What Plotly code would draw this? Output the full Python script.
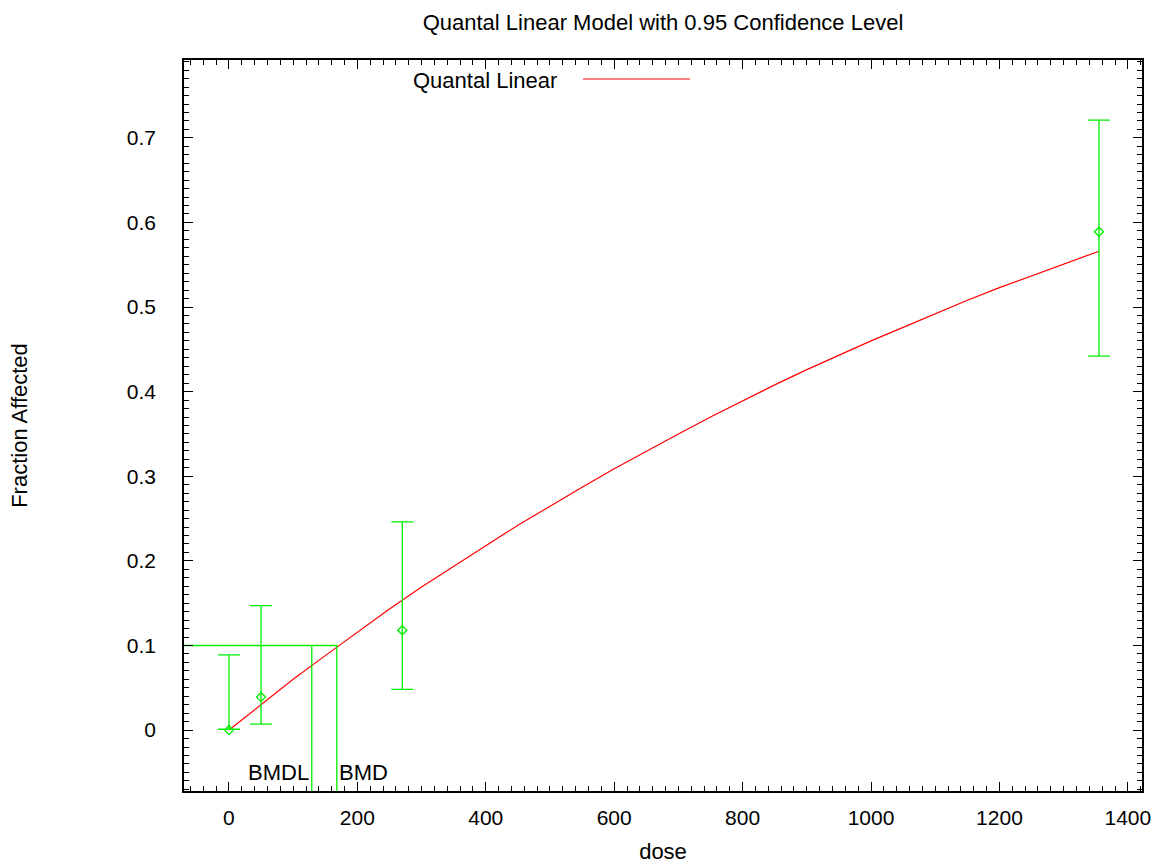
import plotly.graph_objects as go

dose = [0, 50, 270, 1355]
frac = [0.0, 0.039, 0.118, 0.589]
upper = [0.089, 0.147, 0.246, 0.721]
lower = [0.001, 0.007, 0.048, 0.442]

# Model curve
curve_dose = [0, 50, 100, 150, 200, 250, 300, 350, 400, 450, 500, 550, 600, 650, 700,
              750, 800, 850, 900, 950, 1000, 1050, 1100, 1150, 1200, 1250, 1300, 1355]
curve_frac = [0.0, 0.030, 0.060, 0.088, 0.116, 0.143, 0.169, 0.194, 0.218, 0.242, 0.265,
              0.287, 0.309, 0.330, 0.350, 0.370, 0.389, 0.408, 0.426, 0.443, 0.460, 0.476,
              0.492, 0.508, 0.523, 0.537, 0.551, 0.566]

bmr = 0.1
bmd = 168
bmdl = 129

x_range = [-70, 1422]
y_range = [-0.072, 0.792]

green = "rgb(0,238,0)"
red = "rgb(255,0,0)"
font = "Liberation Sans, Arial, sans-serif"

fig = go.Figure()

fig.add_trace(go.Scatter(
    x=curve_dose, y=curve_frac, mode="lines",
    line=dict(color=red, width=1.2), name="Quantal Linear", showlegend=False,
))

fig.add_trace(go.Scatter(
    x=dose, y=frac, mode="markers",
    marker=dict(symbol="diamond-open", size=7, color=green, line=dict(width=1.3, color=green)),
    error_y=dict(type="data", symmetric=False,
                 array=[u - f for u, f in zip(upper, frac)],
                 arrayminus=[f - l for f, l in zip(frac, lower)],
                 color=green, thickness=1.3, width=11),
    showlegend=False,
))

# BMD lines
fig.add_trace(go.Scatter(
    x=[x_range[0], bmd, bmd], y=[bmr, bmr, y_range[0]], mode="lines",
    line=dict(color=green, width=1.3), showlegend=False, hoverinfo="skip",
))
fig.add_trace(go.Scatter(
    x=[bmdl, bmdl], y=[bmr, y_range[0]], mode="lines",
    line=dict(color=green, width=1.3), showlegend=False, hoverinfo="skip",
))

fig.add_annotation(x=bmdl, y=-0.05, text="BMDL", showarrow=False, xanchor="right",
                   xshift=-1, font=dict(family=font, size=22, color="black"))
fig.add_annotation(x=bmd, y=-0.05, text="BMD", showarrow=False, xanchor="left",
                   xshift=0, font=dict(family=font, size=22, color="black"))

# Legend (text then line, as in reference)
fig.add_annotation(xref="paper", yref="paper", x=(559 - 184) / 958, y=(791 - 80) / 731,
                   text="Quantal Linear", showarrow=False, xanchor="right", yanchor="middle",
                   font=dict(family=font, size=22, color="black"))
fig.add_shape(type="line", xref="paper", yref="paper",
              x0=(583 - 184) / 958, x1=(690 - 184) / 958,
              y0=(791 - 79) / 731, y1=(791 - 79) / 731,
              line=dict(color=red, width=1.2))

axis_common = dict(
    showline=True, linecolor="black", linewidth=1.5, mirror="allticks",
    ticks="inside", ticklen=9, tickwidth=1.2, tickcolor="black",
    showgrid=False, zeroline=False, automargin=False,
    tickfont=dict(family=font, size=21, color="black"),
)

fig.update_xaxes(
    range=x_range, tick0=0, dtick=200,
    minor=dict(ticks="inside", ticklen=5, dtick=20, tick0=0, tickcolor="black", tickwidth=1),
    ticklabelstandoff=7,
    title=dict(text="dose", font=dict(family=font, size=22, color="black"), standoff=18),
    **axis_common,
)
fig.update_yaxes(
    range=y_range, tick0=0, dtick=0.1,
    minor=dict(ticks="inside", ticklen=5, dtick=0.01, tick0=0, tickcolor="black", tickwidth=1),
    ticklabelstandoff=22,
    title=dict(text="Fraction Affected", font=dict(family=font, size=22, color="black"), standoff=93),
    **axis_common,
)

fig.update_layout(
    width=1162, height=864,
    margin=dict(l=184, r=20, t=60, b=73),
    plot_bgcolor="white", paper_bgcolor="white",
    title=dict(text="Quantal Linear Model with 0.95 Confidence Level",
               x=663 / 1162, xanchor="center", y=1 - 22 / 864, yanchor="middle",
               xref="container", yref="container",
               font=dict(family=font, size=22, color="black")),
)

fig.write_html("out.html")
